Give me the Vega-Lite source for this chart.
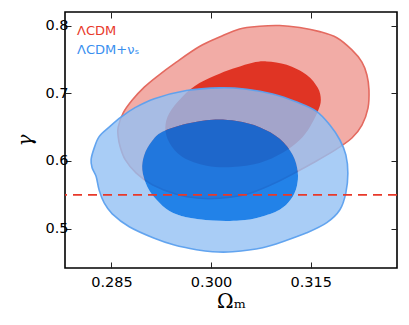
{
  "$schema": "https://vega.github.io/schema/vega-lite/v6.json",
  "width": 332,
  "height": 256,
  "autosize": {"type": "none"},
  "padding": {"left": 65, "top": 12, "right": 12, "bottom": 57},
  "background": "white",
  "config": {
    "view": {"stroke": "black", "strokeWidth": 1.6},
    "axis": {
      "domain": false,
      "grid": false,
      "tickSize": -6,
      "tickColor": "#222",
      "tickWidth": 1,
      "labelFont": "DejaVu Sans",
      "labelFontSize": 14.5,
      "labelColor": "black",
      "titleColor": "black",
      "titleFontWeight": "normal"
    }
  },
  "datasets": {
    "c": [
      {"s": "ro", "i": 0, "k": 0, "x": 0.28601, "y": 0.650},
      {"s": "ro", "i": 1, "k": 1, "x": 0.28677, "y": 0.671},
      {"s": "ro", "i": 2, "k": 2, "x": 0.28813, "y": 0.690},
      {"s": "ro", "i": 3, "k": 3, "x": 0.28994, "y": 0.709},
      {"s": "ro", "i": 4, "k": 4, "x": 0.29175, "y": 0.724},
      {"s": "ro", "i": 5, "k": 5, "x": 0.29477, "y": 0.746},
      {"s": "ro", "i": 6, "k": 6, "x": 0.29825, "y": 0.769},
      {"s": "ro", "i": 7, "k": 7, "x": 0.30127, "y": 0.783},
      {"s": "ro", "i": 8, "k": 8, "x": 0.30429, "y": 0.795},
      {"s": "ro", "i": 9, "k": 9, "x": 0.30731, "y": 0.799},
      {"s": "ro", "i": 10, "k": 10, "x": 0.31033, "y": 0.800},
      {"s": "ro", "i": 11, "k": 11, "x": 0.31335, "y": 0.797},
      {"s": "ro", "i": 12, "k": 12, "x": 0.31637, "y": 0.791},
      {"s": "ro", "i": 13, "k": 13, "x": 0.31894, "y": 0.782},
      {"s": "ro", "i": 14, "k": 14, "x": 0.32121, "y": 0.764},
      {"s": "ro", "i": 15, "k": 15, "x": 0.32272, "y": 0.746},
      {"s": "ro", "i": 16, "k": 16, "x": 0.32347, "y": 0.727},
      {"s": "ro", "i": 17, "k": 17, "x": 0.32378, "y": 0.705},
      {"s": "ro", "i": 18, "k": 18, "x": 0.32363, "y": 0.678},
      {"s": "ro", "i": 19, "k": 19, "x": 0.32272, "y": 0.653},
      {"s": "ro", "i": 20, "k": 20, "x": 0.32121, "y": 0.634},
      {"s": "ro", "i": 21, "k": 21, "x": 0.31864, "y": 0.616},
      {"s": "ro", "i": 22, "k": 22, "x": 0.31532, "y": 0.597},
      {"s": "ro", "i": 23, "k": 23, "x": 0.31290, "y": 0.584},
      {"s": "ro", "i": 24, "k": 24, "x": 0.30928, "y": 0.566},
      {"s": "ro", "i": 25, "k": 25, "x": 0.30535, "y": 0.551},
      {"s": "ro", "i": 26, "k": 26, "x": 0.30127, "y": 0.545},
      {"s": "ro", "i": 27, "k": 27, "x": 0.29825, "y": 0.545},
      {"s": "ro", "i": 28, "k": 28, "x": 0.29477, "y": 0.551},
      {"s": "ro", "i": 29, "k": 29, "x": 0.29115, "y": 0.565},
      {"s": "ro", "i": 30, "k": 30, "x": 0.28873, "y": 0.582},
      {"s": "ro", "i": 31, "k": 31, "x": 0.28707, "y": 0.602},
      {"s": "ro", "i": 32, "k": 32, "x": 0.28631, "y": 0.621},
      {"s": "ro", "i": 33, "k": 33, "x": 0.28601, "y": 0.636},

      {"s": "ri", "i": 0, "k": 0, "x": 0.29311, "y": 0.649},
      {"s": "ri", "i": 1, "k": 1, "x": 0.29372, "y": 0.671},
      {"s": "ri", "i": 2, "k": 2, "x": 0.29568, "y": 0.695},
      {"s": "ri", "i": 3, "k": 3, "x": 0.29825, "y": 0.715},
      {"s": "ri", "i": 4, "k": 4, "x": 0.30127, "y": 0.729},
      {"s": "ri", "i": 5, "k": 5, "x": 0.30384, "y": 0.738},
      {"s": "ri", "i": 6, "k": 6, "x": 0.30625, "y": 0.745},
      {"s": "ri", "i": 7, "k": 7, "x": 0.30837, "y": 0.747},
      {"s": "ri", "i": 8, "k": 8, "x": 0.31139, "y": 0.742},
      {"s": "ri", "i": 9, "k": 9, "x": 0.31441, "y": 0.727},
      {"s": "ri", "i": 10, "k": 10, "x": 0.31607, "y": 0.708},
      {"s": "ri", "i": 11, "k": 11, "x": 0.31653, "y": 0.690},
      {"s": "ri", "i": 12, "k": 12, "x": 0.31607, "y": 0.673},
      {"s": "ri", "i": 13, "k": 13, "x": 0.31486, "y": 0.650},
      {"s": "ri", "i": 14, "k": 14, "x": 0.31335, "y": 0.631},
      {"s": "ri", "i": 15, "k": 15, "x": 0.31079, "y": 0.612},
      {"s": "ri", "i": 16, "k": 16, "x": 0.30731, "y": 0.597},
      {"s": "ri", "i": 17, "k": 17, "x": 0.30323, "y": 0.591},
      {"s": "ri", "i": 18, "k": 18, "x": 0.29931, "y": 0.593},
      {"s": "ri", "i": 19, "k": 19, "x": 0.29568, "y": 0.606},
      {"s": "ri", "i": 20, "k": 20, "x": 0.29372, "y": 0.627},

      {"s": "bo", "i": 0, "k": 0, "x": 0.28193, "y": 0.602},
      {"s": "bo", "i": 1, "k": 1, "x": 0.28239, "y": 0.619},
      {"s": "bo", "i": 2, "k": 2, "x": 0.28314, "y": 0.636},
      {"s": "bo", "i": 3, "k": 3, "x": 0.28465, "y": 0.650},
      {"s": "bo", "i": 4, "k": 4, "x": 0.28647, "y": 0.665},
      {"s": "bo", "i": 5, "k": 5, "x": 0.28843, "y": 0.678},
      {"s": "bo", "i": 6, "k": 6, "x": 0.29145, "y": 0.692},
      {"s": "bo", "i": 7, "k": 7, "x": 0.29628, "y": 0.704},
      {"s": "bo", "i": 8, "k": 8, "x": 0.30127, "y": 0.708},
      {"s": "bo", "i": 9, "k": 9, "x": 0.30535, "y": 0.706},
      {"s": "bo", "i": 10, "k": 10, "x": 0.30928, "y": 0.699},
      {"s": "bo", "i": 11, "k": 11, "x": 0.31290, "y": 0.687},
      {"s": "bo", "i": 12, "k": 12, "x": 0.31592, "y": 0.673},
      {"s": "bo", "i": 13, "k": 13, "x": 0.31789, "y": 0.653},
      {"s": "bo", "i": 14, "k": 14, "x": 0.31940, "y": 0.631},
      {"s": "bo", "i": 15, "k": 15, "x": 0.32030, "y": 0.609},
      {"s": "bo", "i": 16, "k": 16, "x": 0.32060, "y": 0.582},
      {"s": "bo", "i": 17, "k": 17, "x": 0.32030, "y": 0.553},
      {"s": "bo", "i": 18, "k": 18, "x": 0.31940, "y": 0.528},
      {"s": "bo", "i": 19, "k": 19, "x": 0.31743, "y": 0.509},
      {"s": "bo", "i": 20, "k": 20, "x": 0.31441, "y": 0.494},
      {"s": "bo", "i": 21, "k": 21, "x": 0.31139, "y": 0.483},
      {"s": "bo", "i": 22, "k": 22, "x": 0.30776, "y": 0.472},
      {"s": "bo", "i": 23, "k": 23, "x": 0.30323, "y": 0.466},
      {"s": "bo", "i": 24, "k": 24, "x": 0.30021, "y": 0.466},
      {"s": "bo", "i": 25, "k": 25, "x": 0.29779, "y": 0.469},
      {"s": "bo", "i": 26, "k": 26, "x": 0.29447, "y": 0.476},
      {"s": "bo", "i": 27, "k": 27, "x": 0.29145, "y": 0.486},
      {"s": "bo", "i": 28, "k": 28, "x": 0.28767, "y": 0.503},
      {"s": "bo", "i": 29, "k": 29, "x": 0.28511, "y": 0.522},
      {"s": "bo", "i": 30, "k": 30, "x": 0.28390, "y": 0.538},
      {"s": "bo", "i": 31, "k": 31, "x": 0.28314, "y": 0.557},
      {"s": "bo", "i": 32, "k": 32, "x": 0.28269, "y": 0.577},
      {"s": "bo", "i": 33, "k": 33, "x": 0.28208, "y": 0.590},

      {"s": "gap", "i": 0, "k": 50, "x": null, "y": null},

      {"s": "bi", "i": 0, "k": 120, "x": 0.28964, "y": 0.587},
      {"s": "bi", "i": 1, "k": 119, "x": 0.28994, "y": 0.609},
      {"s": "bi", "i": 2, "k": 118, "x": 0.29100, "y": 0.628},
      {"s": "bi", "i": 3, "k": 117, "x": 0.29266, "y": 0.643},
      {"s": "bi", "i": 4, "k": 116, "x": 0.29628, "y": 0.655},
      {"s": "bi", "i": 5, "k": 115, "x": 0.30021, "y": 0.661},
      {"s": "bi", "i": 6, "k": 114, "x": 0.30384, "y": 0.659},
      {"s": "bi", "i": 7, "k": 113, "x": 0.30731, "y": 0.650},
      {"s": "bi", "i": 8, "k": 112, "x": 0.31033, "y": 0.633},
      {"s": "bi", "i": 9, "k": 111, "x": 0.31230, "y": 0.609},
      {"s": "bi", "i": 10, "k": 110, "x": 0.31305, "y": 0.584},
      {"s": "bi", "i": 11, "k": 109, "x": 0.31290, "y": 0.562},
      {"s": "bi", "i": 12, "k": 108, "x": 0.31199, "y": 0.543},
      {"s": "bi", "i": 13, "k": 107, "x": 0.31033, "y": 0.528},
      {"s": "bi", "i": 14, "k": 106, "x": 0.30731, "y": 0.517},
      {"s": "bi", "i": 15, "k": 105, "x": 0.30429, "y": 0.512},
      {"s": "bi", "i": 16, "k": 104, "x": 0.30021, "y": 0.512},
      {"s": "bi", "i": 17, "k": 103, "x": 0.29628, "y": 0.517},
      {"s": "bi", "i": 18, "k": 102, "x": 0.29372, "y": 0.526},
      {"s": "bi", "i": 19, "k": 101, "x": 0.29175, "y": 0.543},
      {"s": "bi", "i": 20, "k": 100, "x": 0.29039, "y": 0.562}
    ],
    "lab": [
      {"t": "ΛCDM", "m": "a", "x": 0.27982, "y": 0.7922},
      {"t": "ΛCDM+νₛ", "m": "b", "x": 0.27982, "y": 0.764}
    ],
    "ref": [{"y": 0.55}],
    "frame": [{"x": 0.30, "y": 0.6}]
  },
  "layer": [
    {
      "data": {"name": "c"},
      "transform": [{"filter": "datum.s === 'ro'"}],
      "mark": {"type": "line", "interpolate": "cardinal-closed", "fill": "#f2aca6", "stroke": "#e46a60", "strokeWidth": 1.6},
      "encoding": {
        "x": {"field": "x", "type": "quantitative", "scale": {"domain": [0.278, 0.328], "nice": false, "zero": false},
              "axis": {"values": [0.285, 0.3, 0.315], "format": ".3f", "title": "Ωₘ", "titleFont": "DejaVu Serif", "titleFontSize": 20, "labelPadding": 13, "titlePadding": 3}},
        "y": {"field": "y", "type": "quantitative", "scale": {"domain": [0.442, 0.82], "nice": false, "zero": false},
              "axis": {"values": [0.5, 0.6, 0.7, 0.8], "format": ".1f", "title": "γ", "titleFont": "DejaVu Serif", "titleFontStyle": "italic", "titleFontSize": 20, "labelPadding": 3, "titlePadding": 9}},
        "order": {"field": "k", "type": "quantitative"}
      }
    },
    {
      "data": {"name": "c"},
      "transform": [{"filter": "datum.s === 'ri'"}],
      "mark": {"type": "line", "interpolate": "cardinal-closed", "fill": "#e03424", "stroke": null, "strokeWidth": 0},
      "encoding": {
        "x": {"field": "x", "type": "quantitative", "scale": {"domain": [0.278, 0.328], "nice": false, "zero": false}, "axis": null},
        "y": {"field": "y", "type": "quantitative", "scale": {"domain": [0.442, 0.82], "nice": false, "zero": false}, "axis": null},
        "order": {"field": "k", "type": "quantitative"}
      }
    },
    {
      "data": {"name": "c"},
      "transform": [{"filter": "datum.s === 'bo' || datum.s === 'gap' || datum.s === 'bi'"}],
      "mark": {"type": "line", "interpolate": "cardinal-closed", "invalid": "break-paths-show-domains", "fill": "#94c1f4", "fillOpacity": 0.8, "stroke": null, "strokeWidth": 0},
      "encoding": {
        "x": {"field": "x", "type": "quantitative", "scale": {"domain": [0.278, 0.328], "nice": false, "zero": false}, "axis": null},
        "y": {"field": "y", "type": "quantitative", "scale": {"domain": [0.442, 0.82], "nice": false, "zero": false}, "axis": null},
        "order": {"field": "k", "type": "quantitative"}
      }
    },
    {
      "data": {"name": "c"},
      "transform": [{"filter": "datum.s === 'bi'"}],
      "mark": {"type": "line", "interpolate": "cardinal-closed", "fill": "#016fe5", "fillOpacity": 0.87, "stroke": null, "strokeWidth": 0},
      "encoding": {
        "x": {"field": "x", "type": "quantitative", "scale": {"domain": [0.278, 0.328], "nice": false, "zero": false}, "axis": null},
        "y": {"field": "y", "type": "quantitative", "scale": {"domain": [0.442, 0.82], "nice": false, "zero": false}, "axis": null},
        "order": {"field": "i", "type": "quantitative"}
      }
    },
    {
      "data": {"name": "c"},
      "transform": [{"filter": "datum.s === 'bo'"}],
      "mark": {"type": "line", "interpolate": "cardinal-closed", "stroke": "#5ca0ee", "strokeOpacity": 0.95, "strokeWidth": 1.6},
      "encoding": {
        "x": {"field": "x", "type": "quantitative", "scale": {"domain": [0.278, 0.328], "nice": false, "zero": false}, "axis": null},
        "y": {"field": "y", "type": "quantitative", "scale": {"domain": [0.442, 0.82], "nice": false, "zero": false}, "axis": null},
        "order": {"field": "k", "type": "quantitative"}
      }
    },
    {
      "data": {"name": "ref"},
      "mark": {"type": "rule", "color": "#e8392a", "strokeWidth": 1.6, "strokeDash": [9, 6]},
      "encoding": {
        "y": {"field": "y", "type": "quantitative", "scale": {"domain": [0.442, 0.82], "nice": false, "zero": false}, "axis": null}
      }
    },
    {
      "data": {"name": "lab"},
      "mark": {"type": "text", "align": "left", "baseline": "middle", "font": "DejaVu Sans", "fontSize": 13},
      "encoding": {
        "x": {"field": "x", "type": "quantitative", "scale": {"domain": [0.278, 0.328], "nice": false, "zero": false}, "axis": null},
        "y": {"field": "y", "type": "quantitative", "scale": {"domain": [0.442, 0.82], "nice": false, "zero": false}, "axis": null},
        "text": {"field": "t"},
        "color": {"field": "m", "type": "nominal", "scale": {"domain": ["a", "b"], "range": ["#e8392a", "#3a8fef"]}, "legend": null}
      }
    },
    {
      "data": {"name": "frame"},
      "mark": {"type": "point", "opacity": 0},
      "encoding": {
        "x": {"field": "x", "type": "quantitative", "scale": {"domain": [0.278, 0.328], "nice": false, "zero": false},
              "axis": {"orient": "top", "values": [0.285, 0.3, 0.315], "labels": false, "title": null}},
        "y": {"field": "y", "type": "quantitative", "scale": {"domain": [0.442, 0.82], "nice": false, "zero": false},
              "axis": {"orient": "right", "values": [0.5, 0.6, 0.7, 0.8], "labels": false, "title": null}}
      }
    }
  ],
  "resolve": {"axis": {"x": "independent", "y": "independent"}}
}
